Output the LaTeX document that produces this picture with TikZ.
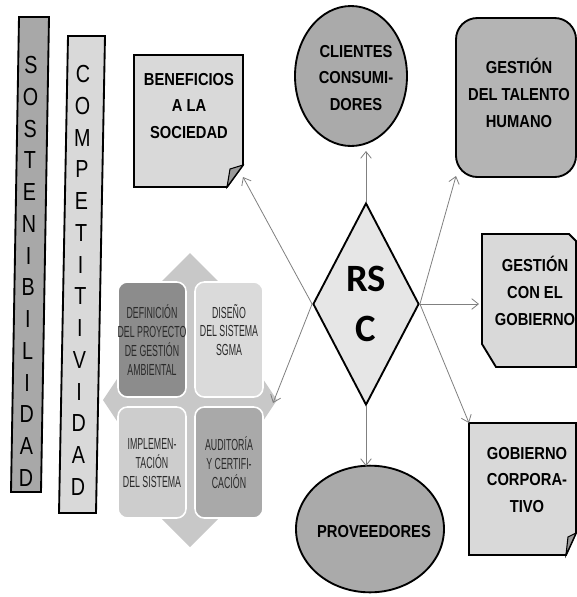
\documentclass[tikz,border=0pt]{standalone}
\usepackage{fontspec}
\setmainfont{Liberation Sans}
\newfontfamily\labfont[FakeStretch=0.85,UprightFont={Liberation Sans Bold}]{Liberation Sans}
\newfontfamily\letterfont[FakeStretch=0.8]{Liberation Sans}
\newfontfamily\condfont[FakeStretch=0.55]{Liberation Sans}
\newfontfamily\calfont[UprightFont={Carlito Bold}]{Carlito}
\usetikzlibrary{shapes.geometric,arrows.meta}
\definecolor{sbar}{HTML}{A8A8A8}
\definecolor{cbar}{HTML}{D9D9D9}
\definecolor{lightbox}{HTML}{D9D9D9}
\definecolor{midcirc}{HTML}{AAAAAA}
\definecolor{talfill}{HTML}{B4B4B4}
\definecolor{diafill}{HTML}{E6E6E6}
\definecolor{linegray}{HTML}{808080}
\definecolor{crossfill}{HTML}{C8C8C8}
\definecolor{boxA}{HTML}{8C8C8C}
\definecolor{boxB}{HTML}{DADADA}
\definecolor{boxC}{HTML}{CDCDCD}
\definecolor{boxD}{HTML}{A9A9A9}
\definecolor{sgmatext}{HTML}{2A2A2A}
\definecolor{flapfill}{HTML}{9A9A9A}
\begin{document}
\begin{tikzpicture}[x=0.75pt,y=-0.75pt,
  shapeline/.style={draw=black,line width=1.4pt},
  lab/.style={font=\labfont\fontsize{13}{20}\selectfont,align=center,inner sep=0pt},
  vletter/.style={font=\letterfont\fontsize{18.5}{18.5}\selectfont,inner sep=0pt},
  conn/.style={draw=linegray,line width=0.6pt,-{Straight Barb[length=5pt,width=8pt]}},
  sgmabox/.style={draw=white,line width=1.2pt,rounded corners=7pt},
  sgmatext/.style={font=\condfont\fontsize{12}{14.2}\selectfont,align=center,text=sgmatext,inner sep=0pt}]
\useasboundingbox[fill=white] (0,0) rectangle (577,597);

% vertical bars
\draw[shapeline,fill=sbar] (19,17) -- (49,17) -- (41,492) -- (11,492) -- cycle;
\draw[shapeline,fill=cbar] (68,36) -- (105,36) -- (96,513) -- (59,513) -- cycle;
\foreach \ch [count=\i from 0] in {S,O,S,T,E,N,I,B,I,L,I,D,A,D}
  \node[vletter] (s\i) at ({31-5*\i/13},{65+413*\i/13}) {\ch};
\foreach \ch [count=\i from 0] in {C,O,M,P,E,T,I,T,I,V,I,D,A,D}
  \node[vletter] (c\i) at ({83-5*\i/13},{74+413*\i/13}) {\ch};

% BENEFICIOS (folded note)
\draw[shapeline,fill=lightbox] (134,55) -- (243,55) -- (243,165) -- (227,187) -- (134,187) -- cycle;
\draw[line width=0.8pt,fill=flapfill] (243,165) -- (227,187) -- (230,169) -- cycle;
\node[lab] (benef) at (189,106) {BENEFICIOS\\A LA\\SOCIEDAD};
\coordinate (benTip) at (243,177);

% CLIENTES
\node[ellipse,shapeline,fill=midcirc,minimum width=84pt,minimum height=105pt,inner sep=0pt] (cli) at (351,76) {};
\node[lab] (clitext) at (356,78) {CLIENTES\\CONSUMI-\\DORES};
\coordinate (cliTip) at (366,151);

% TALENTO HUMANO
\draw[shapeline,fill=talfill,rounded corners=16pt] (456,18) rectangle (576,177);
\node[lab] (tal) at (519,93) {GESTIÓN\\DEL TALENTO\\HUMANO};
\coordinate (talTip) at (456,176);

% GESTION CON EL GOBIERNO
\draw[shapeline,fill=lightbox] (482,234) -- (569,234) -- (576,241) -- (576,367) -- (496,367) -- (482,344) -- cycle;
\node[lab] (gob) at (535,291) {GESTIÓN\\CON EL\\GOBIERNO};
\coordinate (gobTip) at (479,304);

% GOBIERNO CORPORATIVO
\draw[shapeline,fill=lightbox] (469,423) -- (576,423) -- (576,533) -- (566,555) -- (469,555) -- cycle;
\draw[line width=0.8pt,fill=flapfill] (576,533) -- (566,555) -- (568,537) -- cycle;
\node[lab] (corp) at (527,480) {GOBIERNO\\CORPORA-\\TIVO};
\coordinate (corpTip) at (469,423);

% PROVEEDORES
\node[ellipse,shapeline,fill=midcirc,minimum width=111pt,minimum height=95pt,inner sep=0pt] (prov) at (370,529) {};
\node[lab] (provtext) at (374,532) {PROVEEDORES};
\coordinate (provTip) at (366,466);

% SGMA matrix
\fill[crossfill] (190,253) -- (235,298) -- (220,298) -- (220,370) -- (247,370) -- (247,355) -- (277,400)
  -- (247,445) -- (247,430) -- (220,430) -- (220,502) -- (235,502) -- (190,547) -- (145,502)
  -- (160,502) -- (160,430) -- (133,430) -- (133,445) -- (103,400) -- (133,355) -- (133,370)
  -- (160,370) -- (160,298) -- (145,298) -- cycle;
\filldraw[sgmabox,fill=boxA] (118,282) rectangle (186,397);
\filldraw[sgmabox,fill=boxB] (195,282) rectangle (263,397);
\filldraw[sgmabox,fill=boxC] (118,407) rectangle (186,518);
\filldraw[sgmabox,fill=boxD] (195,407) rectangle (263,518);
\node[sgmatext] (def) at (152,340) {DEFINICIÓN\\DEL PROYECTO\\DE GESTIÓN\\AMBIENTAL};
\node[sgmatext] (dis) at (229,330) {DISEÑO\\DEL SISTEMA\\SGMA};
\node[sgmatext] (imp) at (152,463) {IMPLEMEN-\\TACIÓN\\DEL SISTEMA};
\node[sgmatext] (aud) at (229,463) {AUDITORÍA\\Y CERTIFI-\\CACIÓN};
\coordinate (sgmaTip) at (273,403);

% RSC diamond
\node[diamond,shapeline,fill=diafill,shape aspect=0.5,minimum width=79.5pt,minimum height=151.5pt,inner sep=0pt,
  align=center,font=\calfont\fontsize{29}{37.5}\selectfont] (rsc) at (366,304) {RS\\C};

% connectors
\draw[conn] (rsc.north) -- (cliTip);
\draw[conn] (rsc.south) -- (provTip);
\draw[conn] (rsc.east) -- (gobTip);
\draw[conn] (rsc.east) -- (talTip);
\draw[conn] (rsc.east) -- (corpTip);
\draw[conn] (rsc.west) -- (benTip);
\draw[conn] (rsc.west) -- (sgmaTip);
\end{tikzpicture}
\end{document}
